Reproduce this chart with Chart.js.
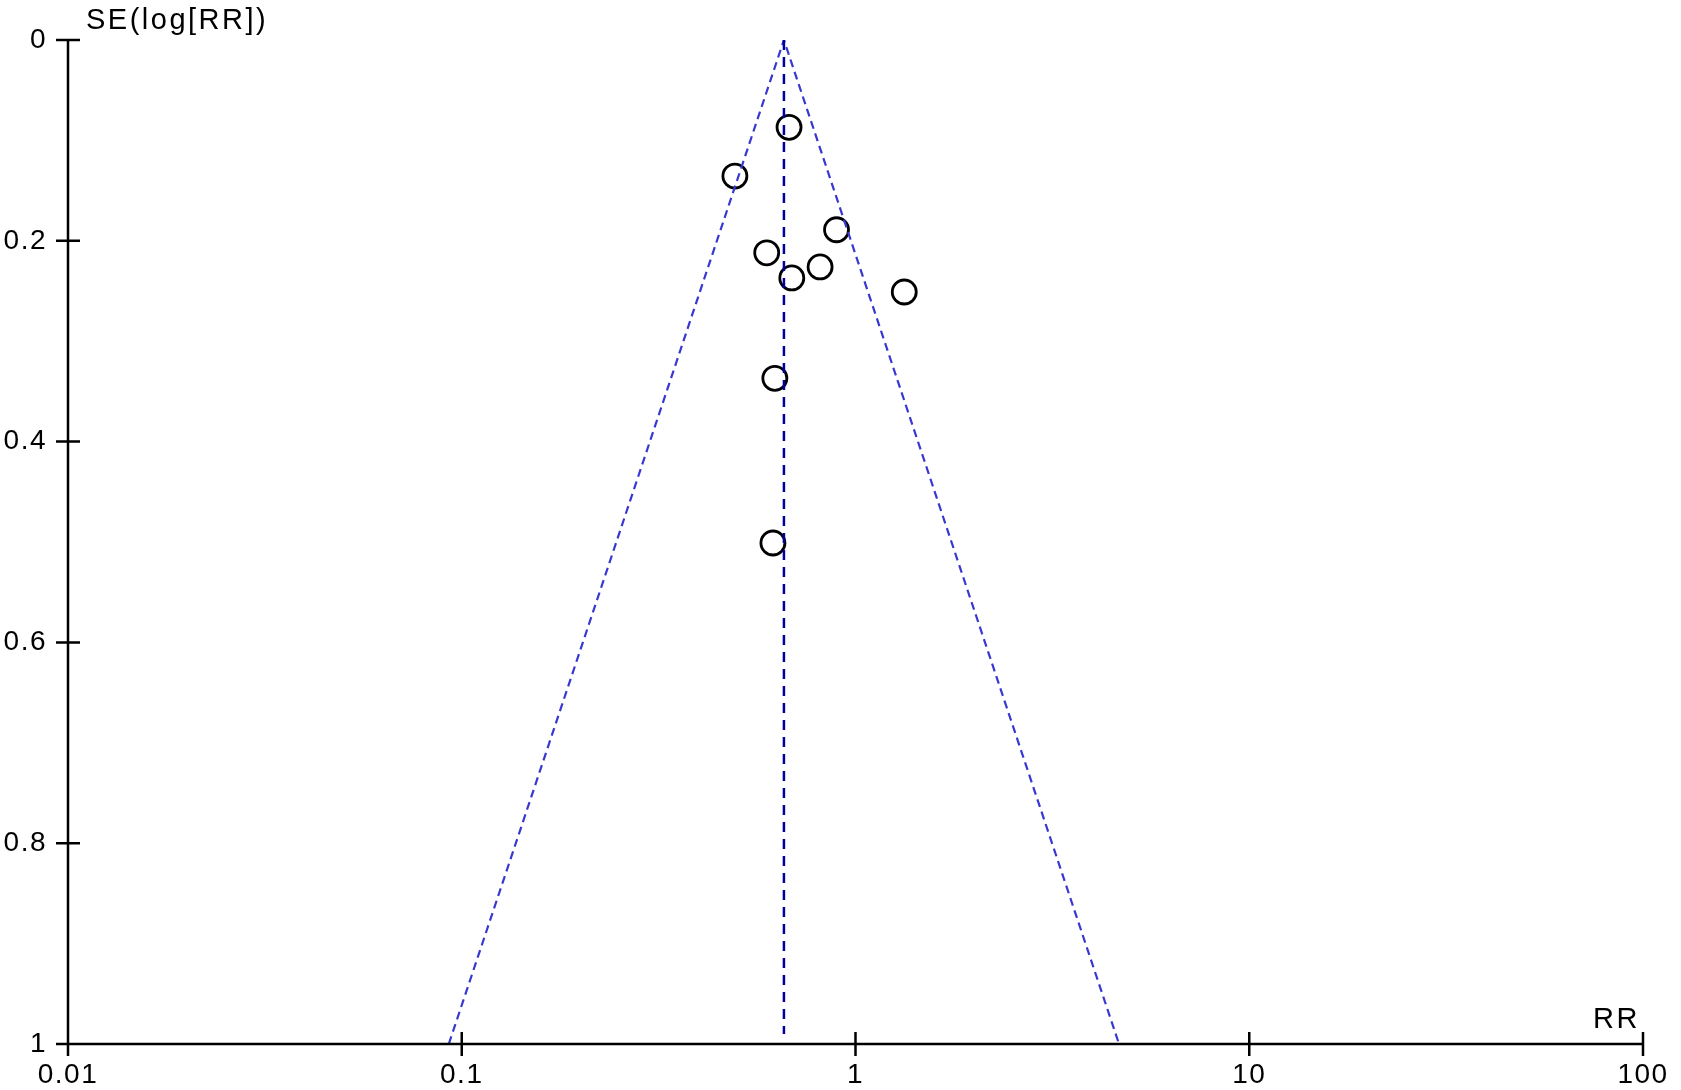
<!DOCTYPE html>
<html>
<head>
<meta charset="utf-8">
<script src="https://cdn.jsdelivr.net/npm/chart.js@4/dist/chart.umd.min.js"></script>
<style>
html,body{margin:0;padding:0;background:#fff;}
#wrap{width:1681px;height:1090px;}
</style>
</head>
<body>
<div id="wrap"><canvas id="c" width="1681" height="1090"></canvas></div>
<script>
// Study estimates (risk ratio) and their standard errors of log RR
const studyRR = [0.678, 0.494, 0.895, 0.595, 0.813, 0.689, 1.33, 0.624, 0.617];
const studySE = [0.087, 0.1355, 0.189, 0.212, 0.226, 0.237, 0.251, 0.337, 0.501];
// Pooled estimate and 95% pseudo-confidence funnel
const pooledRR = 0.658;
const pooledLineSE = [0, 0.99];
const funnelRR = [0.0927, 0.658, 4.67];
const funnelSE = [1, 0, 1];
// Axis ticks
const xTicks = [0.01, 0.1, 1, 10, 100];
const xTickLabels = ['0.01', '0.1', '1', '10', '100'];
const yTicks = [0, 0.2, 0.4, 0.6, 0.8, 1];
const yTickLabels = ['0', '0.2', '0.4', '0.6', '0.8', '1'];
const yTitle = 'SE(log[RR])';
const xTitle = 'RR';

const FONT = 'Liberation Sans';

const spacingPlugin = {
  id: 'spacingPlugin',
  beforeDraw(chart) { chart.ctx.letterSpacing = '1.5px'; }
};

const axisPlugin = {
  id: 'axisPlugin',
  afterDraw(chart) {
    const ctx = chart.ctx;
    const xs = chart.scales.x, ys = chart.scales.y;
    const x0 = xs.getPixelForValue(xTicks[0]);
    const x1 = xs.getPixelForValue(xTicks[xTicks.length - 1]);
    const y0 = ys.getPixelForValue(yTicks[0]);
    const y1 = ys.getPixelForValue(yTicks[yTicks.length - 1]);
    const t = 12;
    ctx.save();
    ctx.strokeStyle = '#000';
    ctx.lineWidth = 2.5;
    ctx.beginPath();
    ctx.moveTo(x0, y0); ctx.lineTo(x0, y1 + t);
    ctx.moveTo(x0 - t, y1); ctx.lineTo(x1, y1);
    yTicks.forEach(v => { const p = ys.getPixelForValue(v); ctx.moveTo(x0 - t, p); ctx.lineTo(x0 + t, p); });
    xTicks.forEach(v => { const p = xs.getPixelForValue(v); ctx.moveTo(p, y1 - t); ctx.lineTo(p, y1 + t); });
    ctx.stroke();
    ctx.fillStyle = '#000';
    ctx.font = '29px "' + FONT + '"';
    ctx.letterSpacing = '2.5px';
    ctx.textBaseline = 'alphabetic';
    ctx.textAlign = 'left';
    ctx.fillText(yTitle, x0 + 18, y0 - 11);
    ctx.textAlign = 'right';
    ctx.fillText(xTitle, x1 - 3, y1 - 16);
    ctx.restore();
  }
};

new Chart(document.getElementById('c'), {
  type: 'scatter',
  data: {
    datasets: [
      {
        label: 'funnel',
        data: funnelRR.map((v, i) => ({x: v, y: funnelSE[i]})),
        showLine: true,
        pointRadius: 0,
        borderColor: '#3838d0',
        borderWidth: 2.2,
        borderDash: [8, 5],
        fill: false,
        tension: 0,
        order: 1
      },
      {
        label: 'pooled',
        data: pooledLineSE.map(s => ({x: pooledRR, y: s})),
        showLine: true,
        pointRadius: 0,
        borderColor: '#00009c',
        borderWidth: 2.5,
        borderDash: [10, 7],
        fill: false,
        order: 0
      },
      {
        label: 'studies',
        data: studyRR.map((v, i) => ({x: v, y: studySE[i]})),
        pointStyle: 'circle',
        pointRadius: 12,
        pointHoverRadius: 12,
        pointBorderWidth: 2.8,
        borderColor: '#000',
        pointBorderColor: '#000',
        backgroundColor: 'rgba(0,0,0,0)',
        pointBackgroundColor: 'rgba(0,0,0,0)',
        order: 2
      }
    ]
  },
  options: {
    responsive: false,
    devicePixelRatio: 1,
    animation: false,
    layout: {padding: {left: 0, right: 38, top: 40, bottom: 0}},
    plugins: {legend: {display: false}, tooltip: {enabled: false}},
    scales: {
      x: {
        type: 'logarithmic',
        min: 0.01,
        max: 100,
        border: {display: false},
        grid: {display: false, drawTicks: false},
        afterBuildTicks: s => { s.ticks = xTicks.map(v => ({value: v})); },
        afterFit: s => { s.height = 46; },
        ticks: {
          autoSkip: false,
          maxRotation: 0,
          padding: 14,
          color: '#000',
          font: {family: FONT, size: 28},
          callback: (v) => { const i = xTicks.indexOf(v); return i >= 0 ? xTickLabels[i] : ''; }
        }
      },
      y: {
        type: 'linear',
        min: 0,
        max: 1,
        reverse: true,
        border: {display: false},
        grid: {display: false, drawTicks: false},
        afterBuildTicks: s => { s.ticks = yTicks.map(v => ({value: v})); },
        afterFit: s => { s.width = 68; },
        ticks: {
          autoSkip: false,
          padding: 21,
          color: '#000',
          font: {family: FONT, size: 28},
          callback: (v) => { const i = yTicks.indexOf(v); return i >= 0 ? yTickLabels[i] : ''; }
        }
      }
    }
  },
  plugins: [spacingPlugin, axisPlugin]
});
</script>
</body>
</html>
